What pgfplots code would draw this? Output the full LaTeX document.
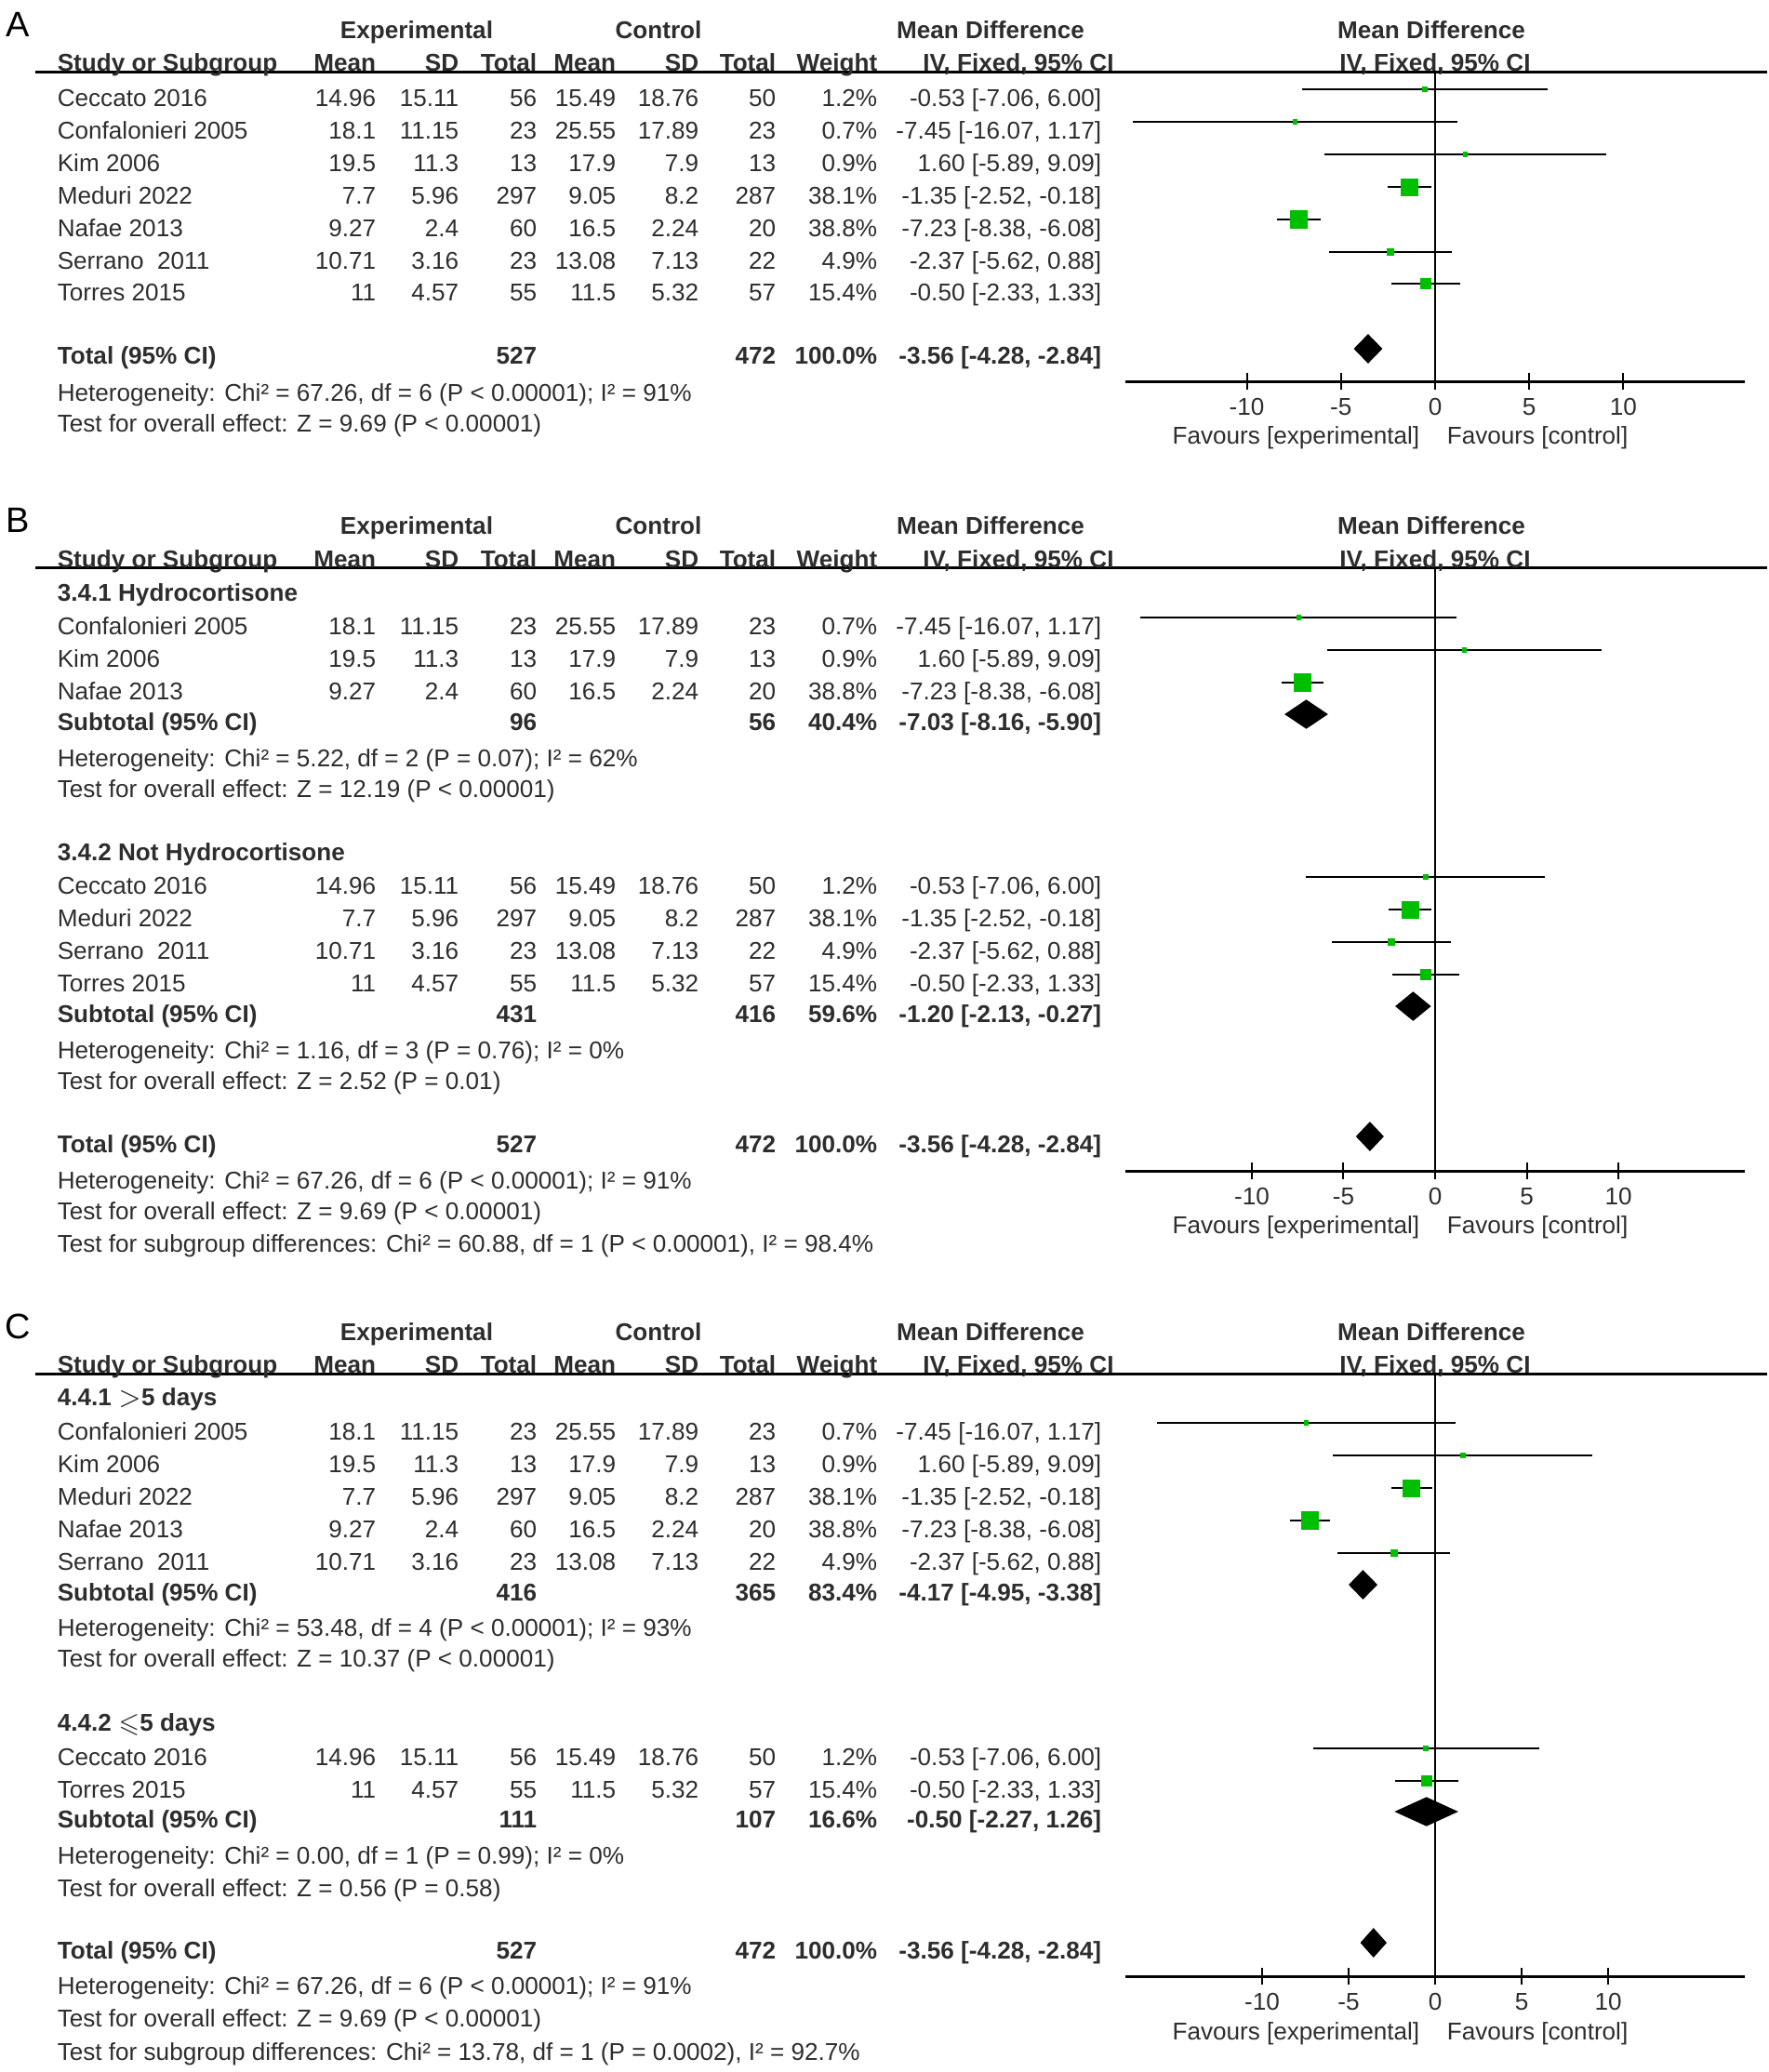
\documentclass[border=0pt]{standalone}
\usepackage{amssymb}
\usepackage{pgfplots}
\pgfplotsset{compat=1.18}
\usepackage{fontspec}
\setmainfont{Liberation Sans}

\definecolor{sq}{RGB}{0,190,0}
\definecolor{txt}{RGB}{45,45,45}

\tikzset{
  t/.style={font=\fontsize{6.53}{7.9}\selectfont, text=txt, inner sep=0pt, yshift=-2.35pt},
  b/.style={font=\fontsize{6.53}{7.9}\selectfont\bfseries},
  L/.style={anchor=base west}, R/.style={anchor=base east}, M/.style={anchor=base},
  panel/.style={font=\fontsize{9.5}{11}\selectfont, anchor=base, inner sep=0pt},
}

\pgfplotsset{forest/.style={
  scale only axis, width=166.5pt, y dir=reverse, clip=false,
  axis x line*=bottom, axis y line=none, ytick=\empty,
  xtick={-10,-5,0,5,10}, xticklabels={-10,-5,0,5,10},
  xtick align=center, major tick length=4.5pt,
  axis line style={line width=0.75pt, -},
  tick style={line width=0.5pt, black},
  xticklabel style={font=\fontsize{6.53}{7.9}\selectfont, text=txt, yshift=1.2pt},
  anchor=south west,
}}

% table text (pixel coordinates of the figure)
\newcommand\hdr[2]{%
  \node[t,b,M] at (448,#1) {Experimental};
  \node[t,b,M] at (708,#1) {Control};
  \node[t,b,M] at (1065,#1) {Mean Difference};
  \node[t,b,M] at (1539,#1) {Mean Difference};
  \node[t,b,L] at (61,#2) {Study or Subgroup};
  \node[t,b,R] at (405,#2) {Mean};
  \node[t,b,R] at (494,#2) {SD};
  \node[t,b,R] at (578,#2) {Total};
  \node[t,b,R] at (663,#2) {Mean};
  \node[t,b,R] at (752,#2) {SD};
  \node[t,b,R] at (835,#2) {Total};
  \node[t,b,R] at (944,#2) {Weight};
  \node[t,b,M] at (1095,#2) {IV, Fixed, 95\% CI};
  \node[t,b,M] at (1543,#2) {IV, Fixed, 95\% CI};}
\newcommand\row[9]{%
  \node[t,L] at (61,#1) {#2};
  \node[t,R] at (405,#1) {#3};
  \node[t,R] at (494,#1) {#4};
  \node[t,R] at (578,#1) {#5};
  \node[t,R] at (663,#1) {#6};
  \node[t,R] at (752,#1) {#7};
  \node[t,R] at (835,#1) {#8};
  \node[t,R] at (944,#1) {#9};}
\newcommand\md[2]{\node[t,R] at (1185,#1) {#2};}
\newcommand\sub[6]{%
  \node[t,b,L] at (61,#1) {#2};
  \node[t,b,R] at (578,#1) {#3};
  \node[t,b,R] at (835,#1) {#4};
  \node[t,b,R] at (944,#1) {#5};
  \node[t,b,R] at (1185,#1) {#6};}
\newcommand\txt[2]{\node[t,L] at (61,#1) {#2};}
\newcommand\grp[2]{\node[t,b,L] at (61,#1) {#2};}
\newcommand\fav[1]{%
  \node[t,R] at (1527,#1) {Favours [experimental]};
  \node[t,L] at (1555,#1) {Favours [control]};}

\newcommand\Ceccato[1]{\row{#1}{Ceccato 2016}{14.96}{15.11}{56}{15.49}{18.76}{50}{1.2\%}\md{#1}{-0.53 [-7.06, 6.00]}}
\newcommand\Confa[1]{\row{#1}{Confalonieri 2005}{18.1}{11.15}{23}{25.55}{17.89}{23}{0.7\%}\md{#1}{-7.45 [-16.07, 1.17]}}
\newcommand\Kim[1]{\row{#1}{Kim 2006}{19.5}{11.3}{13}{17.9}{7.9}{13}{0.9\%}\md{#1}{1.60 [-5.89, 9.09]}}
\newcommand\Meduri[1]{\row{#1}{Meduri 2022}{7.7}{5.96}{297}{9.05}{8.2}{287}{38.1\%}\md{#1}{-1.35 [-2.52, -0.18]}}
\newcommand\Nafae[1]{\row{#1}{Nafae 2013}{9.27}{2.4}{60}{16.5}{2.24}{20}{38.8\%}\md{#1}{-7.23 [-8.38, -6.08]}}
\newcommand\Serrano[1]{\row{#1}{Serrano\ \ 2011}{10.71}{3.16}{23}{13.08}{7.13}{22}{4.9\%}\md{#1}{-2.37 [-5.62, 0.88]}}
\newcommand\Torres[1]{\row{#1}{Torres 2015}{11}{4.57}{55}{11.5}{5.32}{57}{15.4\%}\md{#1}{-0.50 [-2.33, 1.33]}}

% forest marks (inside the axes): md, lower, upper, y, half side of square
\newcommand\fp[5]{%
  \addplot[black, line width=0.6pt] coordinates {(#2,#4) (#3,#4)};
  \addplot[sq, only marks, mark=square*, mark size=#5, mark options={draw=sq, fill=sq, line width=0pt}] coordinates {(#1,#4)};}
% diamond: md, lower, upper, top y, mid y, bottom y
\newcommand\dia[6]{%
  \addplot[fill=black, draw=black, line width=0.3pt] coordinates {(#2,#5) (#1,#4) (#3,#5) (#1,#6)} --cycle;}

\begin{document}
\begin{tikzpicture}
\path[use as bounding box] (0,0) rectangle (475.5pt,-557pt);

% ---------- A ----------
\begin{axis}[forest, xmin=-16.45, xmax=16.45, ymin=77, ymax=410,
  height=83.25pt, at={(302.5pt,-102.5pt)}]
  \addplot[black, line width=0.5pt] coordinates {(0,77) (0,410)};
  \fp{-0.53}{-7.06}{6.00}{96}{0.62pt}
  \fp{-7.45}{-16.07}{1.17}{131}{0.55pt}
  \fp{1.60}{-5.89}{9.09}{166}{0.58pt}
  \fp{-1.35}{-2.52}{-0.18}{201}{2.25pt}
  \fp{-7.23}{-8.38}{-6.08}{236}{2.28pt}
  \fp{-2.37}{-5.62}{0.88}{271}{0.85pt}
  \fp{-0.50}{-2.33}{1.33}{305}{1.4pt}
  \dia{-3.56}{-4.28}{-2.84}{360}{375}{390}
\end{axis}

% ---------- B ----------
\begin{axis}[forest, xmin=-16.9, xmax=16.9, ymin=610, ymax=1259,
  height=162.25pt, at={(302.5pt,-314.75pt)}]
  \addplot[black, line width=0.5pt] coordinates {(0,610) (0,1259)};
  \fp{-7.45}{-16.07}{1.17}{664}{0.55pt}
  \fp{1.60}{-5.89}{9.09}{699}{0.58pt}
  \fp{-7.23}{-8.38}{-6.08}{734}{2.28pt}
  \dia{-7.03}{-8.16}{-5.90}{753}{768}{783}
  \fp{-0.53}{-7.06}{6.00}{943}{0.62pt}
  \fp{-1.35}{-2.52}{-0.18}{978}{2.25pt}
  \fp{-2.37}{-5.62}{0.88}{1013}{0.85pt}
  \fp{-0.50}{-2.33}{1.33}{1048}{1.4pt}
  \dia{-1.20}{-2.13}{-0.27}{1067}{1082}{1097}
  \dia{-3.56}{-4.28}{-2.84}{1207}{1222}{1237}
\end{axis}

% ---------- C ----------
\begin{axis}[forest, xmin=-17.9, xmax=17.9, ymin=1477, ymax=2125,
  height=162pt, at={(302.5pt,-531.25pt)}]
  \addplot[black, line width=0.5pt] coordinates {(0,1477) (0,2125)};
  \fp{-7.45}{-16.07}{1.17}{1530}{0.55pt}
  \fp{1.60}{-5.89}{9.09}{1565}{0.58pt}
  \fp{-1.35}{-2.52}{-0.18}{1600}{2.25pt}
  \fp{-7.23}{-8.38}{-6.08}{1635}{2.28pt}
  \fp{-2.37}{-5.62}{0.88}{1670}{0.85pt}
  \dia{-4.17}{-4.95}{-3.38}{1689}{1704}{1719}
  \fp{-0.53}{-7.06}{6.00}{1880}{0.62pt}
  \fp{-0.50}{-2.33}{1.33}{1915}{1.4pt}
  \dia{-0.50}{-2.27}{1.26}{1933}{1948}{1963}
  \dia{-3.56}{-4.28}{-2.84}{2074}{2089}{2104}
\end{axis}

\begin{scope}[x=0.25pt, y=-0.25pt]
  % A
  \node[panel] at (19,39.5) {A};
  \draw[line width=0.75pt] (38,77) -- (1900,77);
  \hdr{32}{67}
  \Ceccato{105} \Confa{140} \Kim{175} \Meduri{210} \Nafae{245} \Serrano{280} \Torres{314}
  \sub{382}{Total (95\% CI)}{527}{472}{100.0\%}{-3.56 [-4.28, -2.84]}
  \txt{422}{Heterogeneity: Chi² = 67.26, df = 6 (P < 0.00001); I² = 91\%}
  \txt{455}{Test for overall effect: Z = 9.69 (P < 0.00001)}
  \fav{468}

  % B
  \node[panel] at (19,572.5) {B};
  \draw[line width=0.75pt] (38,610) -- (1900,610);
  \hdr{565}{601}
  \grp{637}{3.4.1 Hydrocortisone}
  \Confa{673} \Kim{708} \Nafae{743}
  \sub{776}{Subtotal (95\% CI)}{96}{56}{40.4\%}{-7.03 [-8.16, -5.90]}
  \txt{815}{Heterogeneity: Chi² = 5.22, df = 2 (P = 0.07); I² = 62\%}
  \txt{848}{Test for overall effect: Z = 12.19 (P < 0.00001)}
  \grp{916}{3.4.2 Not Hydrocortisone}
  \Ceccato{952} \Meduri{987} \Serrano{1022} \Torres{1057}
  \sub{1090}{Subtotal (95\% CI)}{431}{416}{59.6\%}{-1.20 [-2.13, -0.27]}
  \txt{1129}{Heterogeneity: Chi² = 1.16, df = 3 (P = 0.76); I² = 0\%}
  \txt{1162}{Test for overall effect: Z = 2.52 (P = 0.01)}
  \sub{1230}{Total (95\% CI)}{527}{472}{100.0\%}{-3.56 [-4.28, -2.84]}
  \txt{1269}{Heterogeneity: Chi² = 67.26, df = 6 (P < 0.00001); I² = 91\%}
  \txt{1302}{Test for overall effect: Z = 9.69 (P < 0.00001)}
  \txt{1337}{Test for subgroup differences: Chi² = 60.88, df = 1 (P < 0.00001), I² = 98.4\%}
  \fav{1317}

  % C
  \node[panel] at (19,1439.5) {C};
  \draw[line width=0.75pt] (38,1477) -- (1900,1477);
  \hdr{1432}{1467}
  \grp{1502}{4.4.1 $>$5 days}
  \Confa{1539} \Kim{1574} \Meduri{1609} \Nafae{1644} \Serrano{1679}
  \sub{1712}{Subtotal (95\% CI)}{416}{365}{83.4\%}{-4.17 [-4.95, -3.38]}
  \txt{1750}{Heterogeneity: Chi² = 53.48, df = 4 (P < 0.00001); I² = 93\%}
  \txt{1783}{Test for overall effect: Z = 10.37 (P < 0.00001)}
  \grp{1852}{4.4.2 $\leqslant$5 days}
  \Ceccato{1889} \Torres{1924}
  \sub{1956}{Subtotal (95\% CI)}{111}{107}{16.6\%}{-0.50 [-2.27, 1.26]}
  \txt{1995}{Heterogeneity: Chi² = 0.00, df = 1 (P = 0.99); I² = 0\%}
  \txt{2030}{Test for overall effect: Z = 0.56 (P = 0.58)}
  \sub{2097}{Total (95\% CI)}{527}{472}{100.0\%}{-3.56 [-4.28, -2.84]}
  \txt{2135}{Heterogeneity: Chi² = 67.26, df = 6 (P < 0.00001); I² = 91\%}
  \txt{2170}{Test for overall effect: Z = 9.69 (P < 0.00001)}
  \txt{2206}{Test for subgroup differences: Chi² = 13.78, df = 1 (P = 0.0002), I² = 92.7\%}
  \fav{2184}
\end{scope}
\end{tikzpicture}
\end{document}
